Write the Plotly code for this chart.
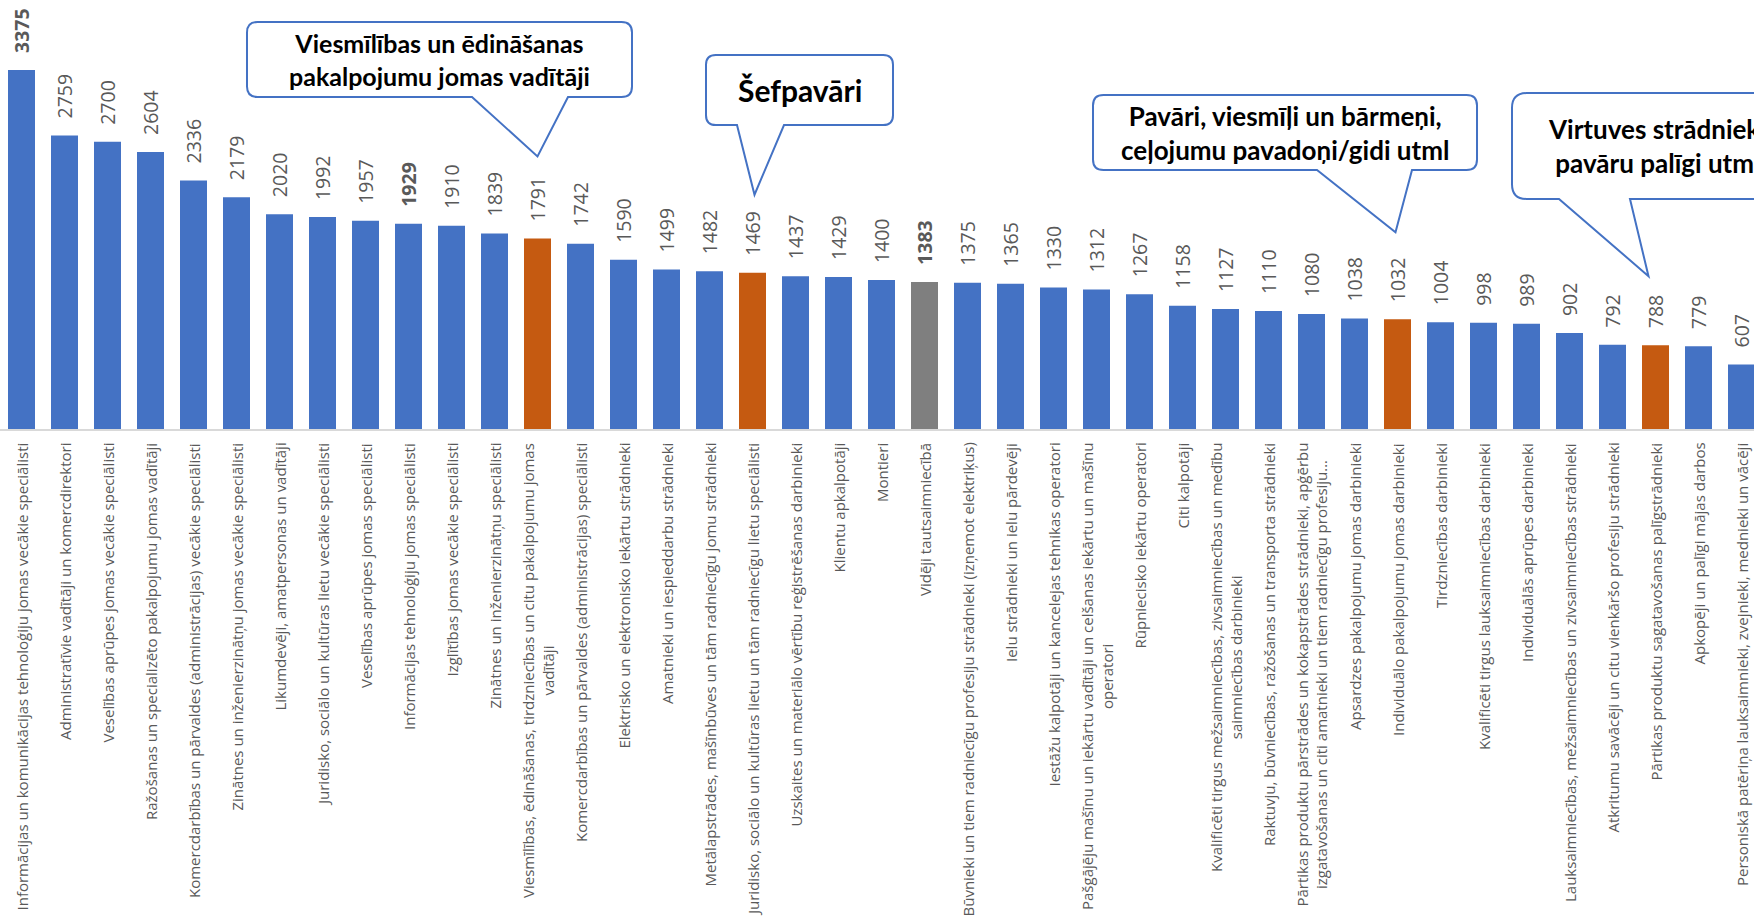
import plotly.graph_objects as go

categories = [
    "Informācijas un komunikācijas tehnoloģiju jomas vecākie speciālisti",
    "Administratīvie vadītāji un komercdirektori",
    "Veselības aprūpes jomas vecākie speciālisti",
    "Ražošanas un specializēto pakalpojumu jomas vadītāji",
    "Komercdarbības un pārvaldes (administrācijas) vecākie speciālisti",
    "Zinātnes un inženierzinātņu jomas vecākie speciālisti",
    "Likumdevēji, amatpersonas un vadītāji",
    "Juridisko, sociālo un kultūras lietu vecākie speciālisti",
    "Veselības aprūpes jomas speciālisti",
    "Informācijas tehnoloģiju jomas speciālisti",
    "Izglītības jomas vecākie speciālisti",
    "Zinātnes un inženierzinātņu speciālisti",
    "Viesmīlības, ēdināšanas, tirdzniecības un citu pakalpojumu jomas<br>vadītāji",
    "Komercdarbības un pārvaldes (administrācijas) speciālisti",
    "Elektrisko un elektronisko iekārtu strādnieki",
    "Amatnieki un iespieddarbu strādnieki",
    "Metālapstrādes, mašīnbūves un tām radniecīgu jomu strādnieki",
    "Juridisko, sociālo un kultūras lietu un tām radniecīgu lietu speciālisti",
    "Uzskaites un materiālo vērtību reģistrēšanas darbinieki",
    "Klientu apkalpotāji",
    "Montieri",
    "Vidēji tautsaimniecībā",
    "Būvnieki un tiem radniecīgu profesiju strādnieki (izņemot elektriķus)",
    "Ielu strādnieki un ielu pārdevēji",
    "Iestāžu kalpotāji un kancelejas tehnikas operatori",
    "Pašgājēju mašīnu un iekārtu vadītāji un celšanas iekārtu un mašīnu<br>operatori",
    "Rūpniecisko iekārtu operatori",
    "Citi kalpotāji",
    "Kvalificēti tirgus mežsaimniecības, zivsaimniecības un medību<br>saimniecības darbinieki",
    "Raktuvju, būvniecības, ražošanas un transporta strādnieki",
    "Pārtikas produktu pārstrādes un kokapstrādes strādnieki, apģērbu<br>izgatavošanas un citi amatnieki un tiem radniecīgu profesiju…",
    "Apsardzes pakalpojumu jomas darbinieki",
    "Individuālo pakalpojumu jomas darbinieki",
    "Tirdzniecības darbinieki",
    "Kvalificēti tirgus lauksaimniecības darbinieki",
    "Individuālās aprūpes darbinieki",
    "Lauksaimniecības, mežsaimniecības un zivsaimniecības strādnieki",
    "Atkritumu savācēji un citu vienkāršo profesiju strādnieki",
    "Pārtikas produktu sagatavošanas palīgstrādnieki",
    "Apkopēji un palīgi mājas darbos",
    "Personiskā patēriņa lauksaimnieki, zvejnieki, mednieki un vācēji",
]

values = [3375, 2759, 2700, 2604, 2336, 2179, 2020, 1992, 1957, 1929,
          1910, 1839, 1791, 1742, 1590, 1499, 1482, 1469, 1437, 1429,
          1400, 1383, 1375, 1365, 1330, 1312, 1267, 1158, 1127, 1110,
          1080, 1038, 1032, 1004, 998, 989, 902, 792, 788, 779, 607]

# highlighted groups: hospitality occupations (orange), national average (grey)
hospitality = [
    "Viesmīlības, ēdināšanas, tirdzniecības un citu pakalpojumu jomas<br>vadītāji",
    "Juridisko, sociālo un kultūras lietu un tām radniecīgu lietu speciālisti",
    "Individuālo pakalpojumu jomas darbinieki",
    "Pārtikas produktu sagatavošanas palīgstrādnieki",
]
average = ["Vidēji tautsaimniecībā"]
bold_labels = [
    "Informācijas un komunikācijas tehnoloģiju jomas vecākie speciālisti",
    "Informācijas tehnoloģiju jomas speciālisti",
    "Vidēji tautsaimniecībā",
]

callout_texts = [
    "Viesmīlības un ēdināšanas<br>pakalpojumu jomas vadītāji",
    "Šefpavāri",
    "Pavāri, viesmīļi un bārmeņi,<br>ceļojumu pavadoņi/gidi utml",
    "Virtuves strādnieki,<br>pavāru palīgi utml.",
]
callout_targets = [12, 17, 32, 38]

# ---------------- styling / layout constants ----------------
BLUE, ORANGE, GREY = "#4472C4", "#C55A11", "#7F7F7F"
TXT = "#595959"
W, H = 1754, 916
PL, PT, PW, PH = 0, 0, 1754, 429
PITCH = 43.0
X0 = -0.5
YMAX = 4033

colors = [ORANGE if c in hospitality else GREY if c in average else BLUE for c in categories]
n = len(categories)
xs = list(range(n))

fig = go.Figure(go.Bar(
    x=xs, y=values, marker=dict(color=colors, line=dict(width=0)),
    hoverinfo="skip",
))

annotations = []
# value labels
for i, (c, v) in enumerate(zip(categories, values)):
    t = f"<b>{v}</b>" if c in bold_labels else str(v)
    annotations.append(dict(
        x=i, y=v, xref="x", yref="y", text=t, textangle=-90,
        showarrow=False, yanchor="bottom", xanchor="center", yshift=15,
        font=dict(family="Open Sans", size=19.5, color=TXT),
    ))
# category labels
for i, c in enumerate(categories):
    annotations.append(dict(
        x=i, y=0, xref="x", yref="paper", text=c, textangle=-90,
        showarrow=False, yanchor="top", xanchor="center", yshift=-12,
        align="center",
        font=dict(family="Open Sans", size=15, color=TXT),
    ))


def px(x):
    return (x - PL) / PW


def py(y):
    return 1 - (y - PT) / PH


def bar_center_px(i):
    return PL + (i - X0) * PITCH


def bar_top_px(v):
    return PT + PH * (1 - v / YMAX)


# callout geometry in pixels: box (x0, y0, x1, y1), tail base (xl, xr), gap from tip to bar top
callout_boxes = [(247, 22, 632, 97), (706, 55, 893, 125), (1093, 95, 1477, 170), (1512, 93, 1830, 199)]
callout_tails = [(472, 568), (737, 784), (1317, 1412), (1559, 1630)]
callout_tip_gaps = [82, 78, 87, 69]
callout_tip_dx = [0, 2, -2, -7]
callout_sizes = [25, 30, 26, 26]

shapes = []
for k, txt in enumerate(callout_texts):
    x0, y0, x1, y1 = callout_boxes[k]
    tl, tr = callout_tails[k]
    tgt = callout_targets[k]
    tipx = bar_center_px(tgt) + callout_tip_dx[k]
    tipy = bar_top_px(values[tgt]) - callout_tip_gaps[k]
    r = 0.14 * (y1 - y0)
    pts = [
        ("M", [(x0 + r, y0)]), ("L", [(x1 - r, y0)]), ("Q", [(x1, y0), (x1, y0 + r)]),
        ("L", [(x1, y1 - r)]), ("Q", [(x1, y1), (x1 - r, y1)]),
        ("L", [(tr, y1)]), ("L", [(tipx, tipy)]), ("L", [(tl, y1)]),
        ("L", [(x0 + r, y1)]), ("Q", [(x0, y1), (x0, y1 - r)]),
        ("L", [(x0, y0 + r)]), ("Q", [(x0, y0), (x0 + r, y0)]),
    ]
    path = " ".join(cmd + " " + " ".join(f"{px(a):.5f},{py(b):.5f}" for a, b in p) for cmd, p in pts) + " Z"
    shapes.append(dict(type="path", path=path, xref="paper", yref="paper",
                       line=dict(color=BLUE, width=2), fillcolor="white", layer="above"))
    if k == 3:
        ax, xa = px(1546), "left"
    else:
        ax, xa = px((x0 + x1) / 2), "center"
    annotations.append(dict(
        x=ax, y=py((y0 + y1) / 2), xref="paper", yref="paper", text=f"<b>{txt}</b>",
        showarrow=False, xanchor=xa, yanchor="middle", align="center",
        font=dict(family="Lato", size=callout_sizes[k], color="#000000"),
    ))

fig.update_layout(
    width=W, height=H,
    margin=dict(l=PL, r=W - PL - PW, t=PT, b=H - PT - PH, pad=0),
    paper_bgcolor="white", plot_bgcolor="white",
    bargap=0.372, showlegend=False,
    xaxis=dict(type="linear", range=[X0, X0 + PW / PITCH], showticklabels=False,
               showgrid=False, zeroline=False, showline=True, linecolor="#D9D9D9",
               linewidth=2, ticks="", fixedrange=True),
    yaxis=dict(range=[0, YMAX], visible=False, fixedrange=True),
    annotations=annotations, shapes=shapes,
)

fig.write_html(
    "out.html",
    config={"displayModeBar": False},
    post_script="document.body.style.margin='0';document.body.style.overflow='hidden';",
)
